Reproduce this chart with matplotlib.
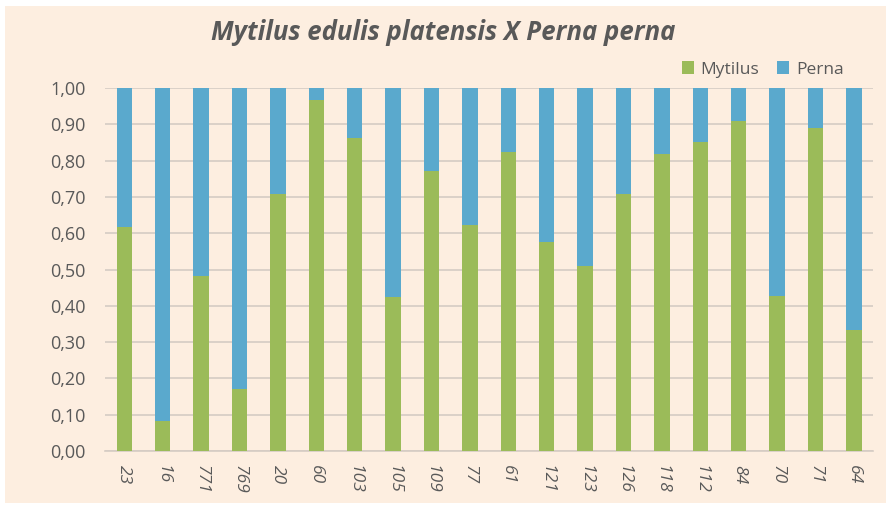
import matplotlib.pyplot as plt
import numpy as np
from matplotlib.patches import Rectangle
from matplotlib.ticker import FuncFormatter

# Data
samples = ['23', '16', '771', '769', '20', '60', '103', '105', '109', '77',
           '61', '121', '123', '126', '118', '112', '84', '70', '71', '64']
mytilus = [0.617, 0.083, 0.482, 0.170, 0.709, 0.968, 0.862, 0.423, 0.771, 0.624,
           0.823, 0.577, 0.509, 0.707, 0.817, 0.852, 0.908, 0.426, 0.891, 0.332]
perna = [1 - m for m in mytilus]

bg = '#FDEEE0'
green = '#9BBB59'
blue = '#5AA9CD'
text_col = '#595959'

plt.rcParams['font.family'] = ['Open Sans', 'DejaVu Sans']

fig = plt.figure(figsize=(8.91, 5.09), dpi=100, facecolor='white')
fig.patches.append(Rectangle((5/891, 6/509), 881/891, 497/509, transform=fig.transFigure,
                             facecolor=bg, edgecolor='none', zorder=-1))
ax = fig.add_axes([0.118, 0.114, 0.862, 0.713])
ax.set_facecolor(bg)

x = np.arange(len(samples))
width = 0.4
ax.bar(x, mytilus, width, label='Mytilus', color=green, zorder=3)
ax.bar(x, perna, width, bottom=mytilus, label='Perna', color=blue, zorder=3)

ax.set_xlim(-0.5, len(samples) - 0.5)
ax.set_ylim(0, 1.0)
ax.set_yticks(np.arange(0, 1.01, 0.1))
ax.yaxis.set_major_formatter(FuncFormatter(lambda v, p: f'{v:.2f}'.replace('.', ',')))
ax.grid(axis='y', color='#D5CCC4', linewidth=1.2, zorder=0)
ax.set_axisbelow(True)

for s in ['top', 'right', 'left']:
    ax.spines[s].set_visible(False)
ax.spines['bottom'].set_color('#D5CCC4')
ax.spines['bottom'].set_linewidth(1.2)
ax.tick_params(axis='both', length=0, colors=text_col)
ax.tick_params(axis='y', labelsize=13, pad=14)

ax.set_xticks(x)
ax.set_xticklabels(samples, rotation=270, fontsize=12.5, style='italic', color=text_col)
ax.tick_params(axis='x', pad=10)

fig.text(0.497, 0.937, 'Mytilus edulis platensis X Perna perna', ha='center', va='center',
         fontsize=18.5, fontweight='bold', style='italic', color=text_col)

ax.legend(loc='lower right', bbox_to_anchor=(0.975, 1.0), ncol=2, frameon=False,
          fontsize=12.5, handlelength=0.7, handleheight=0.7, handletextpad=0.4,
          columnspacing=1.0, labelcolor=text_col, borderaxespad=0.2)

plt.savefig('out.png', dpi=100, facecolor=fig.get_facecolor())
